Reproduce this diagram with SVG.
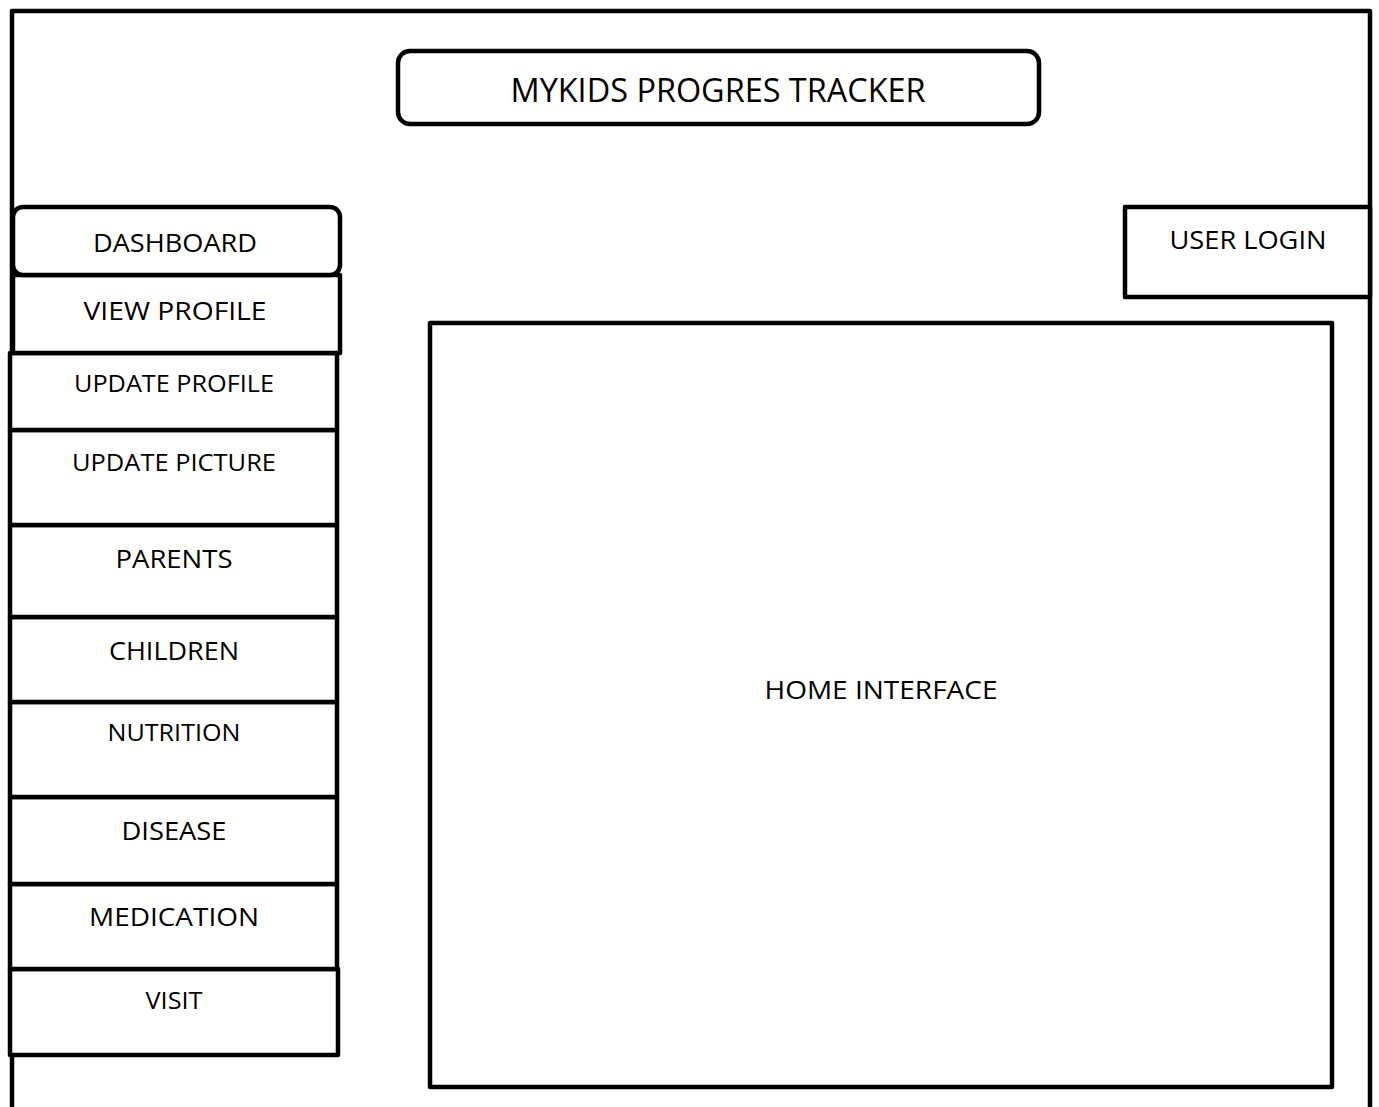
<svg xmlns="http://www.w3.org/2000/svg" width="1379" height="1107" viewBox="0 0 1379 1107">
<style>
.b{fill:#fff;stroke:#000;stroke-width:4.5;stroke-linejoin:round}
.f{fill:none;stroke:#000;stroke-width:4.5;stroke-linejoin:round}
text{font-family:"Open Sans","Liberation Sans",sans-serif;fill:#000;text-anchor:middle}
.L{font-size:26px}
.S{font-size:23px}
.T{font-size:33px}
</style>
<rect width="1379" height="1107" fill="#fff"/>
<g id="frame"><path class="f" d="M12,1107 V11 H1370 V1107"/></g>
<g id="title"><rect class="b" x="398" y="51" width="641" height="73" rx="12"/><text class="T" x="718" y="102" textLength="415" lengthAdjust="spacingAndGlyphs">MYKIDS PROGRES TRACKER</text></g>
<g id="userlogin"><rect class="b" x="1125" y="207" width="245" height="90"/><text class="L" x="1248" y="249" textLength="157" lengthAdjust="spacingAndGlyphs">USER LOGIN</text></g>
<g id="home"><rect class="b" x="430" y="323" width="902" height="764"/><text class="L" x="881" y="699" textLength="233" lengthAdjust="spacingAndGlyphs">HOME INTERFACE</text></g>
<g id="visit"><rect class="b" x="10" y="969" width="328" height="86"/><text class="S" x="174" y="1009" textLength="57" lengthAdjust="spacingAndGlyphs">VISIT</text></g>
<g id="medication"><rect class="b" x="10" y="884" width="327" height="85"/><text class="L" x="174" y="926" textLength="170" lengthAdjust="spacingAndGlyphs">MEDICATION</text></g>
<g id="disease"><rect class="b" x="10" y="797" width="327" height="87"/><text class="L" x="174" y="840" textLength="105" lengthAdjust="spacingAndGlyphs">DISEASE</text></g>
<g id="nutrition"><rect class="b" x="10" y="702" width="327" height="95"/><text class="S" x="174" y="741" textLength="133" lengthAdjust="spacingAndGlyphs">NUTRITION</text></g>
<g id="children"><rect class="b" x="10" y="617" width="327" height="85"/><text class="L" x="174" y="660" textLength="130" lengthAdjust="spacingAndGlyphs">CHILDREN</text></g>
<g id="parents"><rect class="b" x="10" y="525" width="327" height="92"/><text class="L" x="174" y="568" textLength="117" lengthAdjust="spacingAndGlyphs">PARENTS</text></g>
<g id="updatepicture"><rect class="b" x="10" y="430" width="327" height="95"/><text class="S" x="174" y="471" textLength="204" lengthAdjust="spacingAndGlyphs">UPDATE PICTURE</text></g>
<g id="updateprofile"><rect class="b" x="10" y="353" width="327" height="77"/><text class="S" x="174" y="392" textLength="200" lengthAdjust="spacingAndGlyphs">UPDATE PROFILE</text></g>
<g id="viewprofile"><rect class="b" x="13" y="275" width="327" height="78"/><text class="L" x="175" y="320" textLength="183" lengthAdjust="spacingAndGlyphs">VIEW PROFILE</text></g>
<g id="dashboard"><rect class="b" x="13" y="207" width="327" height="68" rx="10"/><text class="L" x="175" y="252" textLength="164" lengthAdjust="spacingAndGlyphs">DASHBOARD</text></g>
<g id="connectors"></g>
</svg>
